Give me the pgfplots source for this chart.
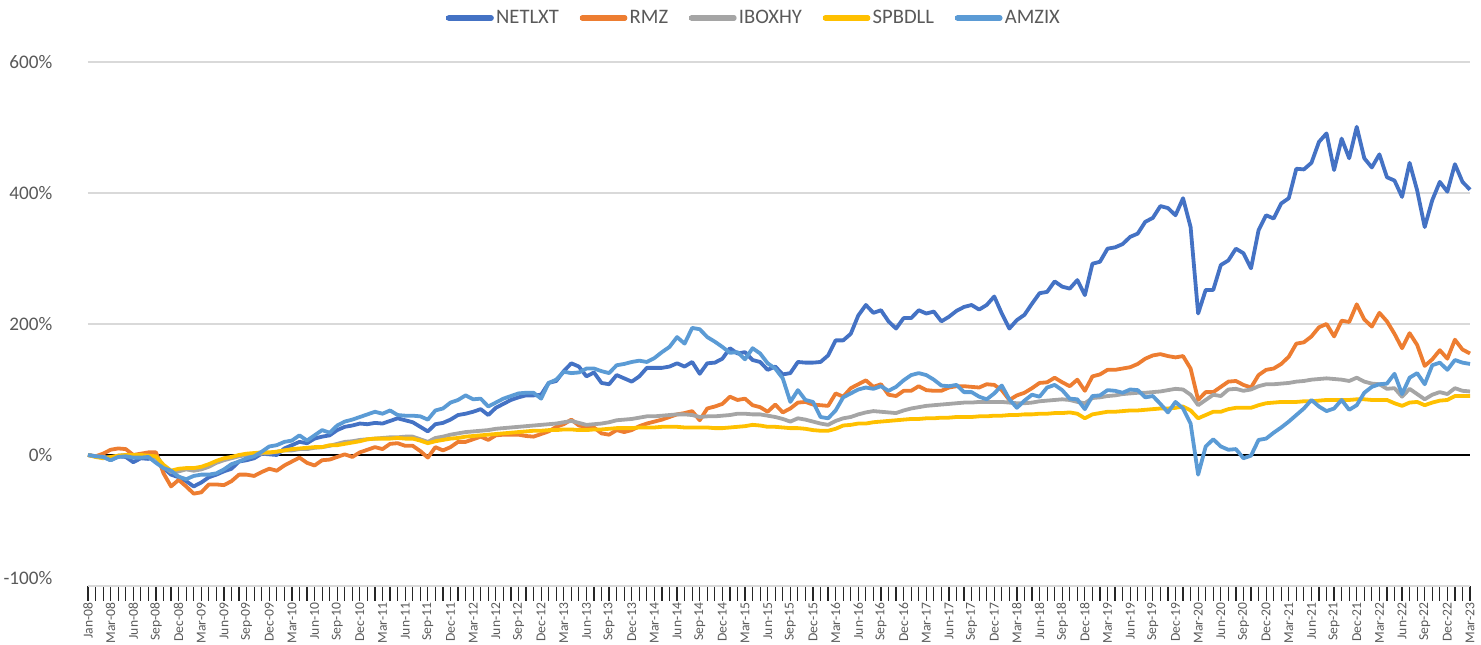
\documentclass[border=0pt]{standalone}
\usepackage{fontspec}
\setmainfont{Carlito}
\usepackage{pgfplots}
\usepackage{pgfplotstable}
\pgfplotsset{compat=1.18}
\definecolor{cN}{HTML}{4472C4}
\definecolor{cR}{HTML}{ED7D31}
\definecolor{cI}{HTML}{A5A5A5}
\definecolor{cS}{HTML}{FFC000}
\definecolor{cA}{HTML}{5B9BD5}
\definecolor{lbl}{HTML}{595959}
\definecolor{grd}{HTML}{D9D9D9}
\pgfplotstableread{
i N R I S A
0 0 0 0 0 0
1 -2 -2 -2 -3 -2
2 -3 2 -3 -5 -3
3 -8 8 -4 -3 -8
4 -2 10 -1 -1 -3
5 -3 9 0 0 -2
6 -11 0 0 0 -4
7 -5 2 -1 0 -4
8 -6 4 -2 -1 -3
9 2 4 -4 -2 -12
10 -20 -28 -18 -15 -20
11 -30 -48 -26 -24 -24
12 -34 -38 -25 -21 -33
13 -40 -48 -22 -20 -37
14 -48 -59 -24 -20 -32
15 -42 -57 -22 -18 -30
16 -34 -45 -18 -14 -30
17 -30 -45 -12 -9 -28
18 -25 -46 -8 -5 -22
19 -21 -40 -5 -3 -14
20 -10 -30 -2 0 -10
21 -8 -30 0 2 -5
22 -5 -32 2 3 -2
23 2 -26 2 4 5
24 1 -21 3 4 13
25 0 -24 5 5 15
26 10 -16 7 7 20
27 15 -10 7 9 22
28 20 -4 9 10 30
29 18 -12 9 11 22
30 25 -16 11 12 30
31 28 -8 12 12 38
32 30 -7 14 15 34
33 38 -3 17 15 45
34 43 1 20 17 51
35 45 -3 21 19 54
36 48 4 23 21 58
37 47 8 24 24 62
38 49 12 25 25 66
39 48 9 26 25 63
40 52 17 27 25 68
41 56 18 27 26 61
42 53 14 28 25 60
43 50 14 28 25 60
44 43 6 24 22 59
45 36 -4 20 18 54
46 47 12 26 21 68
47 49 7 28 23 71
48 54 12 31 25 80
49 61 20 33 26 84
50 63 20 35 28 91
51 66 24 36 29 85
52 70 28 37 30 86
53 61 23 38 31 74
54 72 30 40 32 80
55 78 31 41 33 86
56 84 31 42 34 90
57 88 31 43 35 94
58 91 29 44 36 95
59 91 28 45 37 95
60 92 32 46 37 86
61 110 36 47 38 110
62 113 43 48 38 115
63 128 47 50 39 127
64 140 54 52 39 125
65 135 45 49 38 126
66 120 43 46 38 132
67 126 42 47 39 132
68 110 33 48 39 128
69 108 31 50 40 125
70 122 38 53 41 137
71 117 35 54 41 139
72 112 38 55 41 142
73 120 44 57 42 144
74 133 48 59 42 142
75 133 51 59 42 148
76 133 54 60 43 157
77 135 58 61 43 165
78 140 62 62 43 180
79 135 64 62 42 170
80 142 67 61 42 194
81 124 53 58 42 192
82 140 71 59 42 180
83 141 74 59 41 173
84 147 78 60 41 165
85 163 89 61 42 156
86 155 84 63 43 157
87 157 86 63 44 146
88 145 76 62 46 163
89 142 73 62 45 155
90 130 66 60 43 140
91 135 77 58 43 132
92 123 65 55 42 117
93 125 71 51 41 81
94 142 80 56 41 99
95 141 81 54 40 84
96 141 77 51 38 81
97 142 76 48 37 58
98 152 75 46 37 56
99 175 94 52 40 68
100 175 89 56 45 88
101 185 102 58 46 94
102 213 108 62 48 100
103 229 114 65 48 103
104 217 104 67 50 101
105 221 108 66 51 105
106 204 92 65 52 98
107 193 90 64 53 104
108 209 98 68 54 114
109 209 98 71 55 122
110 221 105 73 55 125
111 216 99 75 56 122
112 219 98 76 56 115
113 204 98 77 57 106
114 211 103 78 57 105
115 220 105 79 58 107
116 226 105 80 58 96
117 229 104 80 58 96
118 222 103 81 59 89
119 229 108 81 59 85
120 242 107 81 60 94
121 216 99 81 60 106
122 193 84 80 61 85
123 206 91 79 61 72
124 214 95 79 62 83
125 231 102 80 62 92
126 247 110 82 63 89
127 249 111 83 63 103
128 265 118 84 64 107
129 257 111 85 64 99
130 254 105 84 65 86
131 267 115 81 63 85
132 244 98 79 56 70
133 292 120 87 62 90
134 295 123 88 64 91
135 315 130 90 66 99
136 317 130 91 66 98
137 322 132 93 67 95
138 333 134 94 68 100
139 338 139 95 68 99
140 356 147 95 69 88
141 362 152 96 70 90
142 380 154 97 71 78
143 377 151 99 71 65
144 366 149 101 72 81
145 392 151 100 74 71
146 348 132 92 68 48
147 216 84 76 56 -30
148 252 96 84 61 13
149 252 96 92 66 24
150 290 104 90 66 13
151 297 112 100 70 8
152 315 113 101 72 9
153 308 107 98 72 -5
154 285 103 100 72 -1
155 343 122 105 76 23
156 366 130 108 79 25
157 361 132 108 80 34
158 384 139 109 81 42
159 392 150 110 81 51
160 437 170 112 81 61
161 436 172 113 82 71
162 446 181 115 82 84
163 478 195 116 83 74
164 491 200 117 84 67
165 435 181 116 84 71
166 483 205 115 84 84
167 453 203 113 84 69
168 501 230 118 85 76
169 453 207 112 85 95
170 439 196 109 84 104
171 459 217 108 84 108
172 424 204 101 84 109
173 419 185 102 79 124
174 394 163 89 75 93
175 446 186 101 80 118
176 404 168 93 81 125
177 348 136 85 76 108
178 389 146 92 80 137
179 417 160 96 83 141
180 402 147 93 84 130
181 444 176 102 90 145
182 417 161 98 90 141
183 405 155 97 90 139
}\data

\begin{document}
\begin{tikzpicture}
\begin{axis}[
  name=ax,
  scale only axis,
  width=691pt, height=262pt,
  xmin=0, xmax=183, ymin=-200, ymax=600,
  axis x line*=bottom, axis y line*=left,
  x axis line style={draw=grd, line width=0.6pt, -},
  y axis line style={draw=none},
  ytick={0,200,400,600},
  yticklabels={0\%,200\%,400\%,600\%},
  extra y ticks={-188},
  extra y tick labels={-100\%},
  extra y tick style={grid=none},
  ymajorgrids,
  grid style={draw=grd, line width=0.7pt},
  ytick style={draw=none},
  yticklabel style={font=\fontsize{9.6}{10}\selectfont, text=lbl, xshift=-6.8pt},
  xtick={0,3,...,183},
  xticklabels={Jan-08,Mar-08,Jun-08,Sep-08,Dec-08,
   Mar-09,Jun-09,Sep-09,Dec-09,Mar-10,Jun-10,Sep-10,Dec-10,
   Mar-11,Jun-11,Sep-11,Dec-11,Mar-12,Jun-12,Sep-12,Dec-12,
   Mar-13,Jun-13,Sep-13,Dec-13,Mar-14,Jun-14,Sep-14,Dec-14,
   Mar-15,Jun-15,Sep-15,Dec-15,Mar-16,Jun-16,Sep-16,Dec-16,
   Mar-17,Jun-17,Sep-17,Dec-17,Mar-18,Jun-18,Sep-18,Dec-18,
   Mar-19,Jun-19,Sep-19,Dec-19,Mar-20,Jun-20,Sep-20,Dec-20,
   Mar-21,Jun-21,Sep-21,Dec-21,Mar-22,Jun-22,Sep-22,Dec-22,Mar-23},
  minor x tick num=2,
  xtick style={draw=black!85, line width=0.6pt},
  minor x tick style={draw=black!85, line width=0.6pt},
  major tick length=7.5pt, minor tick length=7.5pt,
  tick align=outside,
  xticklabel style={rotate=90, anchor=east, font=\fontsize{6.8}{7}\selectfont, text=lbl, xshift=2.6pt},
  legend columns=5,
  legend style={at={(0.482,1.084)}, anchor=center, draw=none, fill=none,
    font=\fontsize{10.3}{11}\selectfont, text=lbl,
    /tikz/every even column/.append style={column sep=7.5pt}},
  legend image code/.code={\draw[#1, line width=2.6pt, line cap=round, overlay] (1.3pt,0pt) -- (22.5pt,0pt);\path (0pt,0pt) -- (22pt,0pt);},
  every axis plot/.append style={line width=1.9pt, line join=round, mark=none},
  clip=false,
]
\draw[black, line width=0.8pt] (axis cs:0,0) -- (axis cs:183,0);
\addplot[cN] table[x=i, y=N] {\data};
\addplot[cR] table[x=i, y=R] {\data};
\addplot[cI] table[x=i, y=I] {\data};
\addplot[cS] table[x=i, y=S] {\data};
\addplot[cA] table[x=i, y=A] {\data};
\legend{NETLXT,RMZ,IBOXHY,SPBDLL,AMZIX}
\end{axis}
\pgfresetboundingbox
\path[use as bounding box] ([shift={(-44pt,-29.5pt)}]ax.south west) rectangle ([shift={(5.5pt,31pt)}]ax.north east);
\end{tikzpicture}
\end{document}
